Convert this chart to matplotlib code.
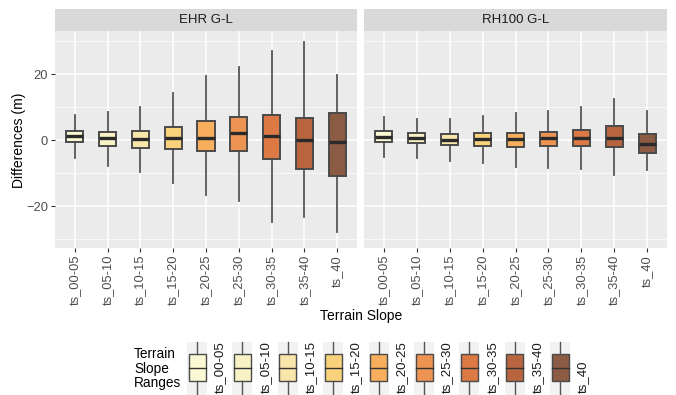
import matplotlib.pyplot as plt
from matplotlib.patches import Rectangle

plt.rcParams['font.family'] = ['Liberation Sans', 'DejaVu Sans']

# slope classes and box summary stats (whisker low, q1, median, q3, whisker high)
slopes = ['ts_00-05', 'ts_05-10', 'ts_10-15', 'ts_15-20', 'ts_20-25',
          'ts_25-30', 'ts_30-35', 'ts_35-40', 'ts_40']
panels = ['EHR G-L', 'RH100 G-L']

ehr_lo  = [-5.3, -7.7, -9.7, -12.9, -16.5, -18.3, -24.6, -23.3, -27.9]
ehr_q1  = [-0.5, -1.6, -2.3, -2.7, -3.1, -3.1, -5.6, -8.8, -10.7]
ehr_med = [1.2, 0.6, 0.5, 0.6, 0.8, 2.2, 1.3, 0.0, -0.5]
ehr_q3  = [2.8, 2.6, 2.8, 4.1, 6.0, 7.1, 7.6, 6.7, 8.4]
ehr_hi  = [7.6, 8.7, 10.1, 14.4, 19.4, 22.3, 27.0, 29.7, 19.8]

rh_lo  = [-4.9, -5.2, -6.2, -7.0, -8.0, -8.3, -8.8, -10.4, -8.9]
rh_q1  = [-0.5, -0.9, -1.5, -1.7, -1.9, -1.8, -1.7, -2.1, -3.8]
rh_med = [1.1, 0.8, 0.1, 0.3, 0.5, 0.6, 0.6, 0.8, -1.2]
rh_q3  = [2.8, 2.2, 1.8, 2.1, 2.3, 2.6, 3.0, 4.2, 1.8]
rh_hi  = [7.2, 6.5, 6.5, 7.4, 8.4, 9.0, 10.0, 12.6, 8.8]

colors = ['#FBF9D3', '#F8F2C6', '#F8E6AB', '#F9D27C', '#F7AF5E',
          '#EE9452', '#DC7945', '#B8653F', '#8C5B44']

W, H = 676, 395
fig = plt.figure(figsize=(W / 100, H / 100), dpi=100)


def fx(px):
    return px / W


def fy(py):
    return 1 - py / H


edge = '#4A4A4A'
pan_left = [55, 364]
pan_w = [302, 303]
top, bottom = 31, 248

data = [(ehr_lo, ehr_q1, ehr_med, ehr_q3, ehr_hi),
        (rh_lo, rh_q1, rh_med, rh_q3, rh_hi)]

for k, name in enumerate(panels):
    ax = fig.add_axes([fx(pan_left[k]), fy(bottom), fx(pan_w[k]), (bottom - top) / H])
    ax.set_facecolor('#EBEBEB')
    for s in ax.spines.values():
        s.set_visible(False)
    lo, q1, med, q3, hi = data[k]
    stats = [dict(whislo=lo[i], q1=q1[i], med=med[i], q3=q3[i], whishi=hi[i])
             for i in range(len(slopes))]
    pos = list(range(1, len(slopes) + 1))
    bp = ax.bxp(stats, positions=pos, widths=0.52, patch_artist=True,
                showfliers=False, showcaps=False,
                boxprops=dict(edgecolor=edge, linewidth=1.4),
                medianprops=dict(color='#2A2A2A', linewidth=2.4),
                whiskerprops=dict(color='#555555', linewidth=1.3))
    for patch, c in zip(bp['boxes'], colors):
        patch.set_facecolor(c)
    for ln in bp['whiskers']:
        ln.set_zorder(1.5)

    ax.set_xlim(0.4, len(slopes) + 0.6)
    ax.set_ylim(-32.6, 33.1)
    ax.set_yticks([-20, 0, 20])
    ax.set_yticks([-30, -10, 10, 30], minor=True)
    ax.set_xticks(pos)
    ax.set_xticklabels(slopes, rotation=90, va='top', ha='center')
    ax.grid(True, which='major', color='white', linewidth=1.1)
    ax.grid(True, which='minor', axis='y', color='white', linewidth=0.5)
    ax.set_axisbelow(True)
    ax.tick_params(axis='both', which='major', length=3, width=0.8, color='#333333',
                   labelcolor='#4D4D4D', labelsize=9.3, pad=2)
    ax.tick_params(axis='y', which='minor', length=0)
    if k > 0:
        ax.tick_params(axis='y', which='major', length=0, labelleft=False)

    # facet strip
    sx = fig.add_axes([fx(pan_left[k]), fy(top), fx(pan_w[k]), 22 / H])
    sx.set_facecolor('#D9D9D9')
    sx.set_xticks([])
    sx.set_yticks([])
    for s in sx.spines.values():
        s.set_visible(False)
    sx.text(0.5, 0.5, name, ha='center', va='center', fontsize=9.5, color='#1A1A1A',
            transform=sx.transAxes)

fig.text(fx(19), fy(140), 'Differences (m)', rotation=90, ha='center', va='center',
         fontsize=10)
fig.text(fx(361), fy(316), 'Terrain Slope', ha='center', va='center', fontsize=10)

# legend drawn on an overlay in pixel units
lg = fig.add_axes([0, 0, 1, 1], zorder=-1)
lg.set_xlim(0, W)
lg.set_ylim(H, 0)
lg.axis('off')
lg.text(134, 368.5, 'Terrain\nSlope\nRanges', ha='left', va='center', fontsize=9.8,
        linespacing=1.08)
for i, c in enumerate(colors):
    x0 = 187 + 45.4 * i
    lg.add_patch(Rectangle((x0, 342), 20, 53, facecolor='#F2F2F2', edgecolor='none'))
    cx = x0 + 10
    lg.plot([cx, cx], [342, 354], color='#555555', linewidth=1.0)
    lg.plot([cx, cx], [381, 395], color='#555555', linewidth=1.0)
    lg.add_patch(Rectangle((x0 + 1.5, 354), 17, 27, facecolor=c, edgecolor=edge,
                           linewidth=1.0))
    lg.plot([x0 + 1.5, x0 + 18.5], [367.5, 367.5], color='#333333', linewidth=1.0)
    lg.text(x0 + 33, 393, slopes[i], rotation=90, ha='center', va='bottom',
            fontsize=9.5, color='#1A1A1A')

fig.savefig('out.png', dpi=100)
